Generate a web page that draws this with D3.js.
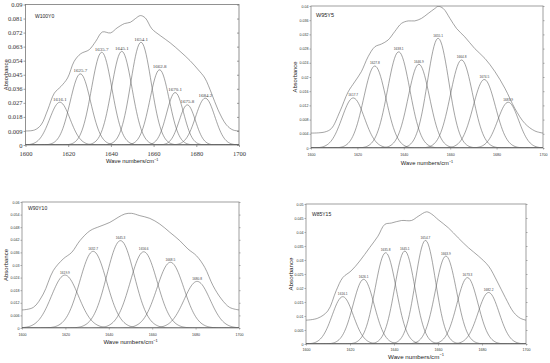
<!DOCTYPE html>
<html>
<head>
<meta charset="utf-8">
<script src="https://cdn.jsdelivr.net/npm/d3@7"></script>
<style>
  body { margin: 0; background: #fff; }
  svg { display: block; }
</style>
</head>
<body>
<svg id="chart" width="550" height="363"></svg>
<script>
// ---- data ----
// W100Y0
var w100Names = ["1616.1", "1625.7", "1635.7", "1645.1", "1654.1", "1662.8", "1670.1", "1675.8", "1684.2"];
var w100Centers = [1616.1, 1625.7, 1635.7, 1645.1, 1654.1, 1662.8, 1670.1, 1675.8, 1684.2];
var w100Heights = [0.0274, 0.0456, 0.0594, 0.0600, 0.0658, 0.0482, 0.0336, 0.0257, 0.0300];
var w100Widths = [4.8, 4.8, 4.8, 4.8, 4.8, 4.5, 4.0, 3.8, 4.5];
var w100EnvX = [1600, 1604.2, 1607.3, 1610.4, 1613.5, 1616.6, 1619.7, 1622.8, 1625.9, 1629.8, 1632.9, 1636, 1639.8, 1642.9, 1646.4, 1649.1, 1651.5, 1653.8, 1656.1, 1659.2, 1663.1, 1667.8, 1672.4, 1677.1, 1680.9, 1684, 1687.1, 1690.2, 1694.1, 1697.2, 1700];
var w100EnvY = [0.009, 0.0096, 0.0129, 0.0225, 0.0332, 0.0375, 0.0429, 0.0536, 0.0585, 0.061, 0.0664, 0.0724, 0.0718, 0.075, 0.0778, 0.0786, 0.081, 0.0829, 0.0814, 0.0744, 0.0701, 0.0654, 0.06, 0.054, 0.0482, 0.0429, 0.0332, 0.0225, 0.0129, 0.0096, 0.009];
var w100YTicks = [0, 0.009, 0.018, 0.027, 0.036, 0.045, 0.054, 0.063, 0.072, 0.081, 0.09];

// W95Y5
var w95Names = ["1617.7", "1627.8", "1638.1", "1646.9", "1655.1", "1664.8", "1674.5", "1683.9"];
var w95Centers = [1618.2, 1627.5, 1637.8, 1646.5, 1654.8, 1664.9, 1674.7, 1685.0];
var w95Heights = [0.0141, 0.0231, 0.0271, 0.0236, 0.0309, 0.0248, 0.0193, 0.0129];
var w95Widths = [4.8, 4.8, 4.8, 4.6, 4.6, 4.8, 4.8, 4.5];
var w95EnvX = [1600, 1605.9, 1608.8, 1612.4, 1616, 1618.8, 1621.7, 1624.6, 1627.5, 1630.4, 1633.2, 1636.1, 1639, 1641.9, 1644.7, 1647.6, 1650.5, 1653.4, 1654.8, 1657, 1659.9, 1662.7, 1666.3, 1670.6, 1675, 1679.3, 1683.6, 1687.9, 1692.2, 1696.5, 1700];
var w95EnvY = [0.0042, 0.0045, 0.0055, 0.0102, 0.0158, 0.0186, 0.0215, 0.0257, 0.0285, 0.0293, 0.0304, 0.0328, 0.0351, 0.0358, 0.0358, 0.0365, 0.0379, 0.0393, 0.0399, 0.0393, 0.0365, 0.0337, 0.0313, 0.028, 0.0252, 0.0215, 0.0168, 0.0111, 0.0069, 0.0048, 0.0042];
var w95YTicks = [0, 0.004, 0.008, 0.012, 0.016, 0.02, 0.024, 0.028, 0.032, 0.036, 0.04];

// W90Y10
var w90Names = ["1619.9", "1632.7", "1645.3", "1656.6", "1668.5", "1680.8"];
var w90Centers = [1619.8, 1632.8, 1645.4, 1656.1, 1668.4, 1680.7];
var w90Heights = [0.0252, 0.0365, 0.0416, 0.0363, 0.0313, 0.0222];
var w90Widths = [6.2, 6.2, 6.3, 6.2, 6.2, 6.0];
var w90EnvX = [1600, 1605.2, 1609.8, 1614.4, 1619, 1622.9, 1626.7, 1631.3, 1635.9, 1640.5, 1644.3, 1647.4, 1650.5, 1654.3, 1658.9, 1663.5, 1668.1, 1672.7, 1676.5, 1680.4, 1684.2, 1688, 1691.9, 1695.7, 1700];
var w90EnvY = [0.0086, 0.0098, 0.0162, 0.0273, 0.0329, 0.036, 0.0416, 0.0463, 0.0484, 0.0503, 0.0527, 0.0543, 0.0546, 0.0535, 0.0522, 0.0495, 0.0456, 0.0416, 0.0376, 0.0344, 0.0289, 0.0202, 0.0138, 0.0098, 0.0086];
var w90YTicks = [0, 0.006, 0.012, 0.018, 0.024, 0.03, 0.036, 0.042, 0.048, 0.054, 0.06];

// W85Y15
var w85Names = ["1616.1", "1626.1", "1635.8", "1645.1", "1654.7", "1663.9", "1673.3", "1682.2"];
var w85Centers = [1616.7, 1626.2, 1636.2, 1644.9, 1654.3, 1663.6, 1673.4, 1683.0];
var w85Heights = [0.0169, 0.0231, 0.0326, 0.0332, 0.037, 0.0314, 0.0237, 0.0184];
var w85Widths = [4.8, 4.8, 4.8, 4.6, 4.6, 4.8, 4.8, 4.8];
var w85EnvX = [1600, 1605.3, 1609.9, 1613.7, 1616.7, 1620.5, 1624.4, 1628.9, 1632.7, 1635.8, 1638.8, 1643.4, 1647.9, 1651, 1654.8, 1657.1, 1660.1, 1664.7, 1669.2, 1673.8, 1678.4, 1683, 1686.8, 1690.6, 1694.4, 1697.4, 1700];
var w85EnvY = [0.0085, 0.0092, 0.0118, 0.019, 0.0237, 0.0261, 0.0296, 0.0344, 0.0385, 0.0427, 0.0432, 0.0441, 0.0441, 0.0456, 0.0472, 0.0464, 0.0444, 0.0415, 0.0379, 0.0344, 0.0314, 0.0278, 0.0225, 0.0166, 0.0113, 0.0092, 0.0085];
var w85YTicks = [0, 0.005, 0.01, 0.015, 0.02, 0.025, 0.03, 0.035, 0.04, 0.045, 0.05];

var xTicks = [1600, 1620, 1640, 1660, 1680, 1700];

var svg = d3.select("#chart");

var serif = "'Liberation Serif', 'Times New Roman', serif";
var sans = "'Liberation Sans', Arial, sans-serif";
var lineCol = "#666";

function fmtY(d) {
    return d === 0 ? "0" : String(+d.toFixed(3));
}

// draws one of the four panels
function drawPanel(p) {
    var g = svg.append("g");

    var x = d3.scaleLinear().domain([1600, 1700]).range([p.left, p.right]);
    var y = d3.scaleLinear().domain([0, p.yTicks[p.yTicks.length - 1]]).range([p.bottom, p.top]);

    var clipId = "clip" + p.id;
    g.append("clipPath").attr("id", clipId)
        .append("rect")
        .attr("x", p.left).attr("y", p.top)
        .attr("width", p.right - p.left).attr("height", p.bottom - p.top);

    // box
    g.append("rect")
        .attr("x", p.left).attr("y", p.top)
        .attr("width", p.right - p.left).attr("height", p.bottom - p.top)
        .attr("fill", "none")
        .attr("stroke", p.boxCol)
        .attr("stroke-width", 0.8);

    // axes
    var xAxis = d3.axisBottom(x).tickValues(xTicks).tickSize(p.tick).tickFormat(d3.format("d"));
    var yAxis = d3.axisLeft(y).tickValues(p.yTicks).tickSize(p.tick).tickFormat(fmtY);
    var yAxisR = d3.axisRight(y).tickValues(p.yTicks).tickSize(p.rightTick).tickFormat("");

    var gx = g.append("g").attr("transform", "translate(0," + p.bottom + ")").call(xAxis);
    var gy = g.append("g").attr("transform", "translate(" + p.left + ",0)").call(yAxis);
    var gr = g.append("g").attr("transform", "translate(" + p.right + ",0)").call(yAxisR);

    [gx, gy, gr].forEach(function(a) {
        a.select(".domain").remove();
        a.selectAll("line").attr("stroke", p.boxCol).attr("stroke-width", 0.7);
        a.selectAll("text")
            .attr("fill", "#333")
            .style("font-family", p.tickFont)
            .style("font-size", p.tickSize + "px");
    });
    gx.selectAll("text").attr("dy", p.xTickDy);
    gy.selectAll("text").attr("x", -p.tick - 1);

    // gaussian bands
    var grid = d3.range(1600, 1700.01, 0.5);
    var bandLine = d3.line()
        .x(function(d) { return x(d[0]); })
        .y(function(d) { return y(d[1]); });

    var bands = g.append("g").attr("clip-path", "url(#" + clipId + ")");
    p.centers.forEach(function(c, i) {
        var pts = grid.map(function(v) {
            return [v, p.heights[i] * Math.exp(-Math.pow(v - c, 2) / (2 * p.widths[i] * p.widths[i]))];
        });
        bands.append("path")
            .attr("d", bandLine(pts))
            .attr("fill", "none")
            .attr("stroke", lineCol)
            .attr("stroke-width", 0.6);
    });

    // envelope
    var env = p.envX.map(function(v, i) { return [v, p.envY[i]]; });
    var envLine = d3.line()
        .curve(d3.curveCatmullRom.alpha(0.5))
        .x(function(d) { return x(d[0]); })
        .y(function(d) { return y(d[1]); });
    bands.append("path")
        .attr("d", envLine(env))
        .attr("fill", "none")
        .attr("stroke", lineCol)
        .attr("stroke-width", 0.6);

    // peak labels
    g.selectAll(".peak" + p.id)
        .data(p.centers)
        .enter()
        .append("text")
        .attr("x", function(d) { return x(d); })
        .attr("y", function(d, i) { return y(p.heights[i]) - 1.5; })
        .attr("text-anchor", "middle")
        .style("font-family", p.tickFont)
        .style("font-size", p.peakSize + "px")
        .attr("fill", "#444")
        .text(function(d, i) { return p.names[i]; });

    // sample name
    g.append("text")
        .attr("x", p.nameX).attr("y", p.nameY)
        .style("font-family", sans)
        .style("font-size", p.nameSize + "px")
        .attr("fill", "#222")
        .text(p.title);

    // axis titles
    var xt = g.append("text")
        .attr("x", (p.left + p.right) / 2)
        .attr("y", p.xTitleY)
        .attr("text-anchor", "middle")
        .style("font-family", sans)
        .style("font-size", p.titleSize + "px")
        .attr("fill", "#222");
    xt.append("tspan").text("Wave numbers/cm");
    xt.append("tspan").attr("dy", -p.titleSize * 0.4).style("font-size", (p.titleSize * 0.65) + "px").text("−1");

    g.append("text")
        .attr("transform", "translate(" + p.yTitleX + "," + ((p.top + p.bottom) / 2) + ") rotate(-90)")
        .attr("text-anchor", "middle")
        .style("font-family", sans)
        .style("font-size", p.titleSize + "px")
        .attr("fill", "#222")
        .text("Absorbance");
}

var panels = [
    { id: 1, title: "W100Y0", names: w100Names, centers: w100Centers, heights: w100Heights, widths: w100Widths,
      envX: w100EnvX, envY: w100EnvY, yTicks: w100YTicks,
      left: 25.5, right: 239, top: 4.5, bottom: 145, tick: 2, rightTick: -2,
      boxCol: "#777", tickFont: serif, tickSize: 6.5, peakSize: 5, xTickDy: "0.9em",
      nameX: 35, nameY: 18, nameSize: 5, xTitleY: 163, yTitleX: 8, titleSize: 5.8 },
    { id: 2, title: "W95Y5", names: w95Names, centers: w95Centers, heights: w95Heights, widths: w95Widths,
      envX: w95EnvX, envY: w95EnvY, yTicks: w95YTicks,
      left: 311, right: 543, top: 6, bottom: 148, tick: 1.5, rightTick: 1.5,
      boxCol: "#888", tickFont: sans, tickSize: 3.6, peakSize: 3.2, xTickDy: "0.9em",
      nameX: 316, nameY: 17, nameSize: 5.5, xTitleY: 165, yTitleX: 297, titleSize: 5.8 },
    { id: 3, title: "W90Y10", names: w90Names, centers: w90Centers, heights: w90Heights, widths: w90Widths,
      envX: w90EnvX, envY: w90EnvY, yTicks: w90YTicks,
      left: 22, right: 239, top: 202, bottom: 328, tick: 1.5, rightTick: 1.5,
      boxCol: "#888", tickFont: sans, tickSize: 3.6, peakSize: 3.2, xTickDy: "0.9em",
      nameX: 28, nameY: 210, nameSize: 5, xTitleY: 344, yTitleX: 8, titleSize: 6 },
    { id: 4, title: "W85Y15", names: w85Names, centers: w85Centers, heights: w85Heights, widths: w85Widths,
      envX: w85EnvX, envY: w85EnvY, yTicks: w85YTicks,
      left: 306, right: 526, top: 204, bottom: 344, tick: 1.5, rightTick: 1.5,
      boxCol: "#888", tickFont: sans, tickSize: 3.6, peakSize: 3.2, xTickDy: "0.71em",
      nameX: 312, nameY: 216, nameSize: 5, xTitleY: 358.5, yTitleX: 293, titleSize: 6.2 }
];

panels.forEach(drawPanel);
</script>
</body>
</html>
